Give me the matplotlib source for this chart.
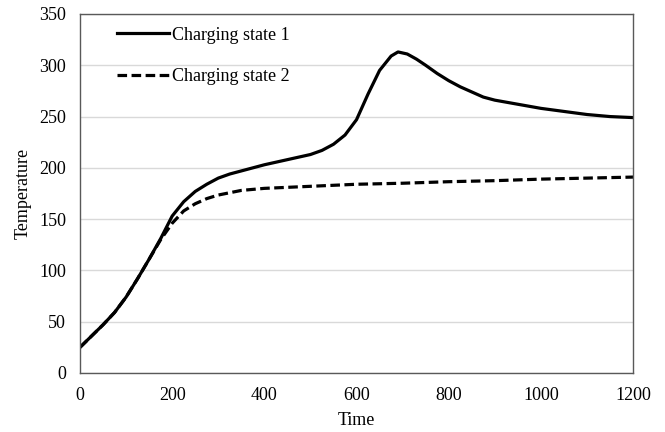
import matplotlib.pyplot as plt

# values
time1 = [0, 25, 50, 75, 100, 125, 150, 175, 200, 225, 250, 275, 300, 325, 350, 400, 450, 500, 525,
         550, 575, 600, 625, 650, 675, 690, 710, 730, 750, 775, 800, 825, 850, 875, 900, 950, 1000,
         1050, 1100, 1150, 1200]
state1 = [25, 36, 47, 59, 74, 92, 111, 131, 153, 167, 177, 184, 190, 194, 197, 203, 208, 213, 217,
          223, 232, 247, 272, 295, 309, 313, 311, 306, 300, 292, 285, 279, 274, 269, 266, 262, 258,
          255, 252, 250, 249]

time2 = [0, 25, 50, 75, 100, 125, 150, 175, 200, 225, 250, 275, 300, 350, 400, 450, 500, 600, 700,
         800, 900, 1000, 1100, 1200]
state2 = [25, 36, 47, 59, 74, 92, 111, 130, 146, 158, 165, 170, 173.5, 178, 180, 181, 182, 184, 185,
          186.5, 187.5, 189, 190, 191]

plt.rcParams['font.family'] = ['Liberation Serif']

fig, ax = plt.subplots(figsize=(6.65, 4.32), dpi=100)
fig.subplots_adjust(left=0.1203, right=0.952, top=0.9676, bottom=0.1366)

ax.plot(time1, state1, color='black', linewidth=2.3, solid_joinstyle='round',
        label='Charging state 1')
ax.plot(time2, state2, color='black', linewidth=2.3, linestyle=(0, (3.0, 1.4)),
        dash_joinstyle='round', label='Charging state 2')

ax.set_xlim(0, 1200)
ax.set_ylim(0, 350)
ax.set_xticks(range(0, 1201, 200))
ax.set_yticks(range(0, 351, 50))
ax.tick_params(length=0, labelsize=13)
ax.tick_params(axis='y', pad=10)
ax.tick_params(axis='x', pad=10)
ax.grid(True, axis='y', color='#d9d9d9', linewidth=1)
ax.set_axisbelow(True)
for s in ax.spines.values():
    s.set_color('#595959')
    s.set_linewidth(1)

ax.set_xlabel('Time', fontsize=13, labelpad=6)
ax.set_ylabel('Temperature', fontsize=13, labelpad=5)

ax.legend(loc='upper left', bbox_to_anchor=(0.067, 0.965), frameon=False, fontsize=13,
          handlelength=2.9, handletextpad=0.15, labelspacing=1.35, borderpad=0, borderaxespad=0)

fig.savefig('out.png', dpi=100)
